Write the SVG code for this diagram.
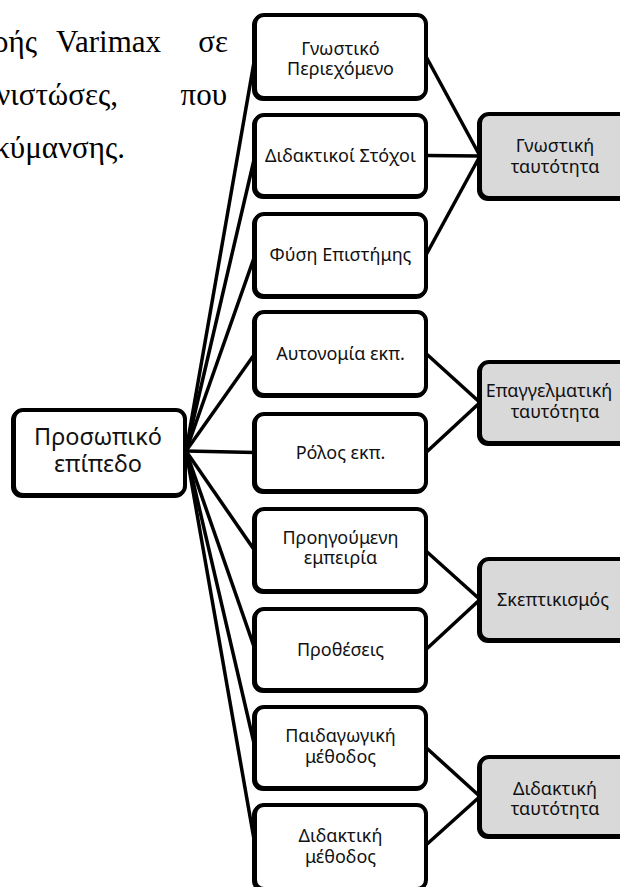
<svg xmlns="http://www.w3.org/2000/svg" width="620" height="887" viewBox="0 0 620 887">
<style>
.bg{fill:#fff}
.box{fill:#fff;stroke:#000;stroke-width:4}
.gbox{fill:#d9d9d9;stroke:#000;stroke-width:4}
.sh{fill:none;stroke:#000;stroke-width:4}
.lbl{font-family:"Noto Sans","Open Sans",sans-serif;font-size:18px;fill:#111;text-anchor:middle}
.big{font-size:23.5px}
.para{font-family:"Liberation Serif","Times New Roman",serif;font-size:31px;fill:#000}
.con line{stroke:#000;stroke-width:3.5}
</style>
<rect class="bg" x="0" y="0" width="620" height="887"/>
<g id="paragraph">
<text class="para" x="37" y="52" text-anchor="end">ρής</text>
<text class="para" x="56" y="52">Varimax</text>
<text class="para" x="228" y="52" text-anchor="end">σε</text>
<text class="para" x="118" y="105" text-anchor="end">νιστώσες,</text>
<text class="para" x="227" y="105" text-anchor="end">που</text>
<text class="para" x="125" y="158" text-anchor="end">κύμανσης.</text>
</g>
<g id="connectors" class="con">
<line x1="186" y1="451" x2="255" y2="56.5"/>
<line x1="186" y1="451" x2="255" y2="155.5"/>
<line x1="186" y1="451" x2="255" y2="255"/>
<line x1="186" y1="451" x2="255" y2="353.5"/>
<line x1="186" y1="451" x2="255" y2="452.5"/>
<line x1="186" y1="451" x2="255" y2="551"/>
<line x1="186" y1="451" x2="255" y2="649.5"/>
<line x1="186" y1="451" x2="255" y2="747.5"/>
<line x1="186" y1="451" x2="255" y2="845"/>
<line x1="426" y1="56.5" x2="480" y2="156"/>
<line x1="426" y1="155.5" x2="480" y2="156"/>
<line x1="426" y1="255" x2="480" y2="156"/>
<line x1="426" y1="353.5" x2="480" y2="402.5"/>
<line x1="426" y1="452.5" x2="480" y2="402.5"/>
<line x1="426" y1="551" x2="480" y2="599.5"/>
<line x1="426" y1="649.5" x2="480" y2="599.5"/>
<line x1="426" y1="747.5" x2="480" y2="796.5"/>
<line x1="426" y1="845" x2="480" y2="796.5"/>
</g>
<g id="n-personal">
<rect class="sh" x="13" y="411" width="171" height="85" rx="9"/>
<rect class="box" x="14" y="410" width="171" height="85" rx="9"/>
<text class="lbl big" x="98" y="445">Προσωπικό</text>
<text class="lbl big" x="98" y="472">επίπεδο</text>
</g>
<g id="n1">
<rect class="sh" x="254" y="16" width="171" height="83" rx="9"/>
<rect class="box" x="255" y="15" width="171" height="83" rx="9"/>
<text class="lbl" x="340.5" y="55">Γνωστικό</text>
<text class="lbl" x="340.5" y="75">Περιεχόμενο</text>
</g>
<g id="n2">
<rect class="sh" x="254" y="116" width="171" height="81" rx="9"/>
<rect class="box" x="255" y="115" width="171" height="81" rx="9"/>
<text class="lbl" x="340.5" y="162">Διδακτικοί Στόχοι</text>
</g>
<g id="n3">
<rect class="sh" x="254" y="215" width="171" height="82" rx="9"/>
<rect class="box" x="255" y="214" width="171" height="82" rx="9"/>
<text class="lbl" x="340.5" y="261">Φύση Επιστήμης</text>
</g>
<g id="n4">
<rect class="sh" x="254" y="313" width="171" height="83" rx="9"/>
<rect class="box" x="255" y="312" width="171" height="83" rx="9"/>
<text class="lbl" x="340.5" y="360">Αυτονομία εκπ.</text>
</g>
<g id="n5">
<rect class="sh" x="254" y="415" width="171" height="77" rx="9"/>
<rect class="box" x="255" y="414" width="171" height="77" rx="9"/>
<text class="lbl" x="340.5" y="459">Ρόλος εκπ.</text>
</g>
<g id="n6">
<rect class="sh" x="254" y="510" width="171" height="82" rx="9"/>
<rect class="box" x="255" y="509" width="171" height="82" rx="9"/>
<text class="lbl" x="340.5" y="544">Προηγούμενη</text>
<text class="lbl" x="340.5" y="564">εμπειρία</text>
</g>
<g id="n7">
<rect class="sh" x="254" y="610" width="171" height="81" rx="9"/>
<rect class="box" x="255" y="609" width="171" height="81" rx="9"/>
<text class="lbl" x="340.5" y="656">Προθέσεις</text>
</g>
<g id="n8">
<rect class="sh" x="254" y="708" width="171" height="81" rx="9"/>
<rect class="box" x="255" y="707" width="171" height="81" rx="9"/>
<text class="lbl" x="340.5" y="742">Παιδαγωγική</text>
<text class="lbl" x="340.5" y="763">μέθοδος</text>
</g>
<g id="n9">
<rect class="sh" x="254" y="806" width="171" height="84" rx="9"/>
<rect class="box" x="255" y="805" width="171" height="84" rx="9"/>
<text class="lbl" x="340.5" y="842">Διδακτική</text>
<text class="lbl" x="340.5" y="863">μέθοδος</text>
</g>
<g id="g1">
<rect class="sh" x="479" y="115" width="152" height="84" rx="9"/>
<rect class="gbox" x="480" y="114" width="152" height="84" rx="9"/>
<text class="lbl" x="555" y="152">Γνωστική</text>
<text class="lbl" x="555" y="173">ταυτότητα</text>
</g>
<g id="g2">
<rect class="sh" x="479" y="363" width="152" height="81" rx="9"/>
<rect class="gbox" x="480" y="362" width="152" height="81" rx="9"/>
<text class="lbl" x="549" y="397">Επαγγελματική</text>
<text class="lbl" x="555" y="418">ταυτότητα</text>
</g>
<g id="g3">
<rect class="sh" x="479" y="560" width="152" height="81" rx="9"/>
<rect class="gbox" x="480" y="559" width="152" height="81" rx="9"/>
<text class="lbl" x="553" y="606">Σκεπτικισμός</text>
</g>
<g id="g4">
<rect class="sh" x="479" y="758" width="152" height="79" rx="9"/>
<rect class="gbox" x="480" y="757" width="152" height="79" rx="9"/>
<text class="lbl" x="555" y="795">Διδακτική</text>
<text class="lbl" x="555" y="815">ταυτότητα</text>
</g>
</svg>
